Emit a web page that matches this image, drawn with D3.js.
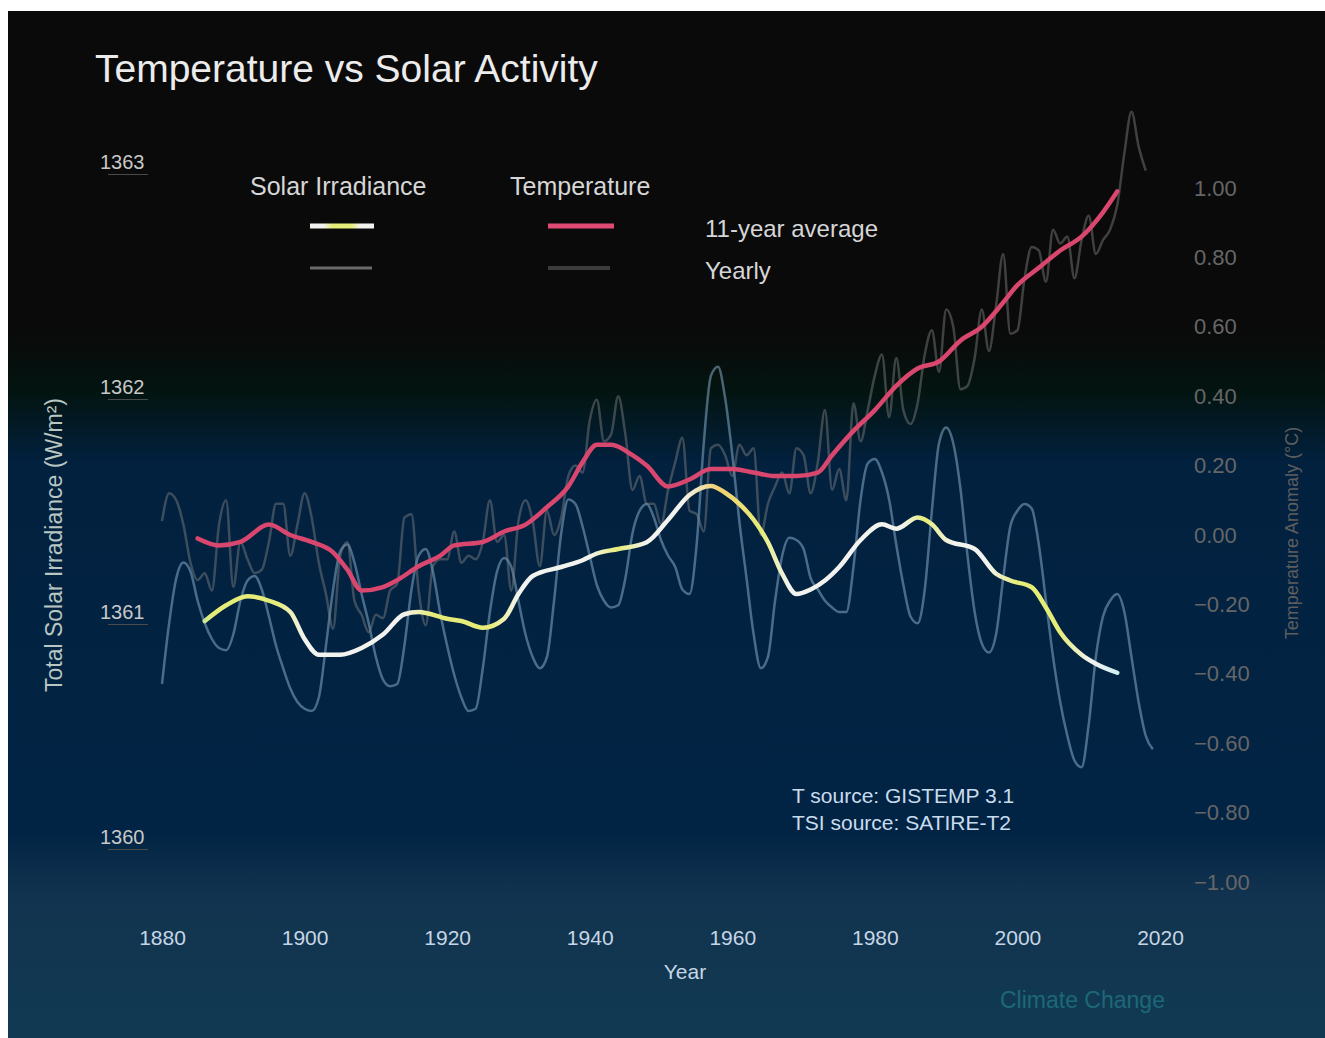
<!DOCTYPE html>
<html>
<head>
<meta charset="utf-8">
<script src="https://cdn.jsdelivr.net/npm/d3@7"></script>
<style>
  html, body { margin: 0; padding: 0; background: #ffffff; }
  svg { display: block; }
  text { font-family: "Liberation Sans", Arial, sans-serif; }
</style>
</head>
<body>
<svg id="chart" width="1325" height="1038"></svg>
<script>
// ---------- DATA ----------
const xTicks = [1880, 1900, 1920, 1940, 1960, 1980, 2000, 2020];
const tsiTicks = [1360, 1361, 1362, 1363];
const tempTicks = [-1.0, -0.8, -0.6, -0.4, -0.2, 0.0, 0.2, 0.4, 0.6, 0.8, 1.0];

// Total solar irradiance, yearly (W/m2), 1880-2019
const tsiYearStart = 1880;
const tsiYearly = [
  1360.68, 1360.95, 1361.15, 1361.22, 1361.18, 1361.05, 1360.95, 1360.88, 1360.84, 1360.83,
  1360.90, 1361.05, 1361.14, 1361.16, 1361.10, 1360.98, 1360.85, 1360.75, 1360.66, 1360.60,
  1360.57, 1360.56, 1360.62, 1360.85, 1361.10, 1361.27, 1361.30, 1361.22, 1361.08, 1360.95,
  1360.80, 1360.70, 1360.67, 1360.68, 1360.85, 1361.10, 1361.25, 1361.28, 1361.18, 1361.00,
  1360.85, 1360.72, 1360.62, 1360.56, 1360.57, 1360.75, 1361.00, 1361.18, 1361.24, 1361.20,
  1361.05, 1360.90, 1360.80, 1360.75, 1360.80, 1361.05, 1361.35, 1361.50, 1361.48, 1361.38,
  1361.25, 1361.12, 1361.05, 1361.02, 1361.03, 1361.15, 1361.35, 1361.45, 1361.48, 1361.42,
  1361.32, 1361.25, 1361.20, 1361.10, 1361.08, 1361.30, 1361.75, 1362.05, 1362.09, 1361.95,
  1361.70, 1361.40, 1361.15, 1360.90, 1360.75, 1360.80, 1361.05, 1361.25, 1361.33, 1361.32,
  1361.28, 1361.15, 1361.10, 1361.05, 1361.02, 1361.00, 1361.00, 1361.20, 1361.50, 1361.66,
  1361.68, 1361.62, 1361.50, 1361.30, 1361.12, 1360.98, 1360.95, 1361.10, 1361.45, 1361.75,
  1361.82, 1361.75, 1361.55, 1361.25, 1361.00, 1360.86, 1360.82, 1360.90, 1361.15, 1361.38,
  1361.45, 1361.48, 1361.46, 1361.30, 1361.05, 1360.80, 1360.60, 1360.45, 1360.34, 1360.31,
  1360.50, 1360.80, 1360.98, 1361.05, 1361.08, 1361.00, 1360.80, 1360.60, 1360.45, 1360.39
];

// Total solar irradiance, 11-year average
const tsiAvgYears = [1886, 1889, 1892, 1895, 1898, 1900, 1902, 1905, 1908, 1911, 1914, 1916, 1920, 1922, 1925,
  1928, 1930, 1932, 1936, 1939, 1941, 1944, 1948, 1951, 1954, 1957, 1959, 1961, 1963, 1965, 1967, 1969,
  1971, 1973, 1975, 1978, 1981, 1983, 1986, 1988, 1990, 1994, 1997, 1999, 2002, 2004, 2006, 2009, 2011, 2014];
const tsiAvg = [1360.96, 1361.03, 1361.07, 1361.05, 1361.00, 1360.88, 1360.81, 1360.81, 1360.84, 1360.90,
  1360.99, 1361.00, 1360.97, 1360.96, 1360.93, 1360.97, 1361.08, 1361.16, 1361.20, 1361.23, 1361.26,
  1361.28, 1361.31, 1361.41, 1361.52, 1361.56, 1361.53, 1361.48, 1361.41, 1361.31, 1361.17, 1361.08,
  1361.10, 1361.14, 1361.20, 1361.32, 1361.39, 1361.37, 1361.42, 1361.39, 1361.32, 1361.28, 1361.17,
  1361.14, 1361.11, 1361.02, 1360.91, 1360.81, 1360.77, 1360.73];

// Temperature anomaly, yearly (deg C), 1880-2018
const tempYearStart = 1880;
const tempYearly = [
  0.04, 0.12, 0.10, 0.03, -0.08, -0.13, -0.11, -0.16, 0.03, 0.10,
  -0.15, -0.02, -0.07, -0.11, -0.10, -0.02, 0.09, 0.09, -0.06, 0.03,
  0.12, 0.05, -0.08, -0.17, -0.27, -0.06, -0.02, -0.19, -0.23, -0.28,
  -0.23, -0.24, -0.16, -0.14, 0.05, 0.06, -0.16, -0.26, -0.09, -0.07,
  -0.07, 0.01, -0.08, -0.06, -0.07, -0.02, 0.10, -0.02, 0.00, -0.16,
  0.04, 0.10, 0.04, -0.09, 0.07, 0.00, 0.05, 0.17, 0.20, 0.18,
  0.33, 0.39, 0.27, 0.29, 0.40, 0.29, 0.13, 0.17, 0.09, 0.09,
  0.03, 0.13, 0.21, 0.28, 0.07, 0.06, 0.01, 0.25, 0.26, 0.23,
  0.17, 0.26, 0.23, 0.25, 0.00, 0.09, 0.14, 0.18, 0.12, 0.25,
  0.23, 0.12, 0.21, 0.36, 0.13, 0.19, 0.10, 0.38, 0.27, 0.36,
  0.46, 0.52, 0.34, 0.51, 0.36, 0.32, 0.38, 0.52, 0.59, 0.47,
  0.65, 0.60, 0.42, 0.43, 0.51, 0.65, 0.53, 0.66, 0.81, 0.58,
  0.59, 0.74, 0.83, 0.82, 0.73, 0.88, 0.84, 0.86, 0.74, 0.85,
  0.92, 0.81, 0.85, 0.88, 0.95, 1.10, 1.22, 1.12, 1.05
];

// Temperature anomaly, 11-year average
const tempAvgYears = [1885, 1888, 1891, 1895, 1898, 1901, 1904, 1906, 1908, 1911, 1913, 1916, 1919, 1921, 1925,
  1928, 1931, 1934, 1937, 1939, 1941, 1943, 1946, 1948, 1951, 1954, 1957, 1960, 1963, 1966, 1969, 1972,
  1974, 1977, 1980, 1983, 1986, 1989, 1992, 1995, 1998, 2000, 2003, 2006, 2009, 2012, 2014];
const tempAvg = [-0.01, -0.03, -0.02, 0.03, 0.00, -0.02, -0.05, -0.10, -0.16, -0.15, -0.13, -0.09, -0.06,
  -0.03, -0.02, 0.01, 0.03, 0.08, 0.14, 0.21, 0.26, 0.26, 0.23, 0.20, 0.14, 0.16, 0.19, 0.19, 0.18, 0.17,
  0.17, 0.18, 0.23, 0.30, 0.36, 0.43, 0.48, 0.50, 0.56, 0.60, 0.67, 0.72, 0.77, 0.82, 0.86, 0.93, 0.99];

// ---------- CHART ----------
const svg = d3.select("#chart");
const W = 1325, H = 1038;
const defs = svg.append("defs");

const bg = defs.append("linearGradient").attr("id", "bg")
  .attr("x1", 0).attr("y1", 0).attr("x2", 0).attr("y2", 1);
[[0, "#0a0a0a"], [0.31, "#0a0a0a"], [0.37, "#031410"], [0.44, "#02213f"], [0.80, "#022444"], [0.86, "#12334f"], [1, "#113a52"]]
  .forEach(([o, c]) => bg.append("stop").attr("offset", o).attr("stop-color", c));

svg.append("rect").attr("width", W).attr("height", H).attr("fill", "#ffffff");
svg.append("rect").attr("x", 8).attr("y", 11).attr("width", W - 8).attr("height", H - 11).attr("fill", "url(#bg)");

const x = d3.scaleLinear().domain([1880, 2020]).range([162, 1160]);
const yL = d3.scaleLinear().domain([1360, 1363]).range([837, 162]);
const yR = d3.scaleLinear().domain([-1, 1]).range([882, 188]);

// gradient for the solar 11-year average line (white / yellow)
const sg = defs.append("linearGradient").attr("id", "solarGrad")
  .attr("gradientUnits", "userSpaceOnUse")
  .attr("x1", x(1880)).attr("x2", x(2020)).attr("y1", 0).attr("y2", 0);
const Y = "#e6ec78", Wt = "#f2f2ee";
[[1884, "#9fe0c8"], [1887, Y], [1896, Y], [1900, Wt], [1914, Wt], [1918, Y], [1926, Y], [1930, Wt],
 [1940, Wt], [1944, Y], [1948, Wt], [1953, Wt], [1958, "#f2d070"], [1964, Y], [1968, Wt], [1984, Wt],
 [1987, Y], [1991, Wt], [1996, Wt], [2000, Y], [2006, Y], [2010, Wt], [2015, "#c8f0f0"]]
  .forEach(([yr, c]) => sg.append("stop").attr("offset", (yr - 1880) / 140).attr("stop-color", c));

const lg = defs.append("linearGradient").attr("id", "legSolar")
  .attr("gradientUnits", "userSpaceOnUse")
  .attr("x1", 310).attr("x2", 374).attr("y1", 0).attr("y2", 0);
[[0, Wt], [0.22, Wt], [0.35, Y], [0.65, Y], [0.78, Wt], [1, Wt]]
  .forEach(([o, c]) => lg.append("stop").attr("offset", o).attr("stop-color", c));

// axes
const gx = svg.append("g").attr("transform", "translate(0,927)")
  .call(d3.axisBottom(x).tickValues(xTicks).tickFormat(d3.format("d")).tickSize(0));
gx.select(".domain").remove();
gx.selectAll("text").attr("font-size", 21).attr("fill", "#c6d6e6").attr("dy", "0.7em");

const gl = svg.append("g").attr("transform", "translate(100,0)")
  .call(d3.axisLeft(yL).tickValues(tsiTicks).tickFormat(d3.format("d")).tickSize(0));
gl.select(".domain").remove();
gl.selectAll("text").attr("font-size", 20).attr("fill", "#c8c8c8")
  .attr("text-anchor", "start").attr("x", 0).attr("dy", "0.32em");
gl.selectAll(".tick").append("line").attr("x1", 8).attr("x2", 48).attr("y1", 12).attr("y2", 12)
  .attr("stroke", "#4a4a4a").attr("stroke-width", 1);

const gr = svg.append("g").attr("transform", "translate(1194,0)")
  .call(d3.axisRight(yR).tickValues(tempTicks).tickFormat(d3.format(".2f")).tickSize(0));
gr.select(".domain").remove();
gr.selectAll("text").attr("font-size", 22).attr("fill", "#666666")
  .attr("text-anchor", "start").attr("x", 0).attr("dy", "0.32em");

// axis titles
svg.append("text").attr("transform", "translate(62,545) rotate(-90)")
  .attr("text-anchor", "middle").attr("font-size", 23).attr("fill", "#b9c6c2")
  .text("Total Solar Irradiance (W/m²)");
svg.append("text").attr("transform", "translate(1298,533) rotate(-90)")
  .attr("text-anchor", "middle").attr("font-size", 18).attr("fill", "#5e5e5e")
  .text("Temperature Anomaly (°C)");
svg.append("text").attr("x", 685).attr("y", 979).attr("text-anchor", "middle")
  .attr("font-size", 21).attr("fill", "#c6d6e6").text("Year");

// title
svg.append("text").attr("x", 95).attr("y", 82).attr("font-size", 39).attr("fill", "#ececec")
  .text("Temperature vs Solar Activity");

// lines
const tsiYearlyPts = tsiYearly.map((v, i) => [tsiYearStart + i, v]);
const tempYearlyPts = tempYearly.map((v, i) => [tempYearStart + i, v]);
const tsiAvgPts = tsiAvgYears.map((yr, i) => [yr, tsiAvg[i]]);
const tempAvgPts = tempAvgYears.map((yr, i) => [yr, tempAvg[i]]);

const lineL = d3.line().x(d => x(d[0])).y(d => yL(d[1])).curve(d3.curveMonotoneX);
const lineR = d3.line().x(d => x(d[0])).y(d => yR(d[1])).curve(d3.curveMonotoneX);

svg.append("path").datum(tsiYearlyPts).attr("d", lineL).attr("fill", "none")
  .attr("stroke", "rgba(150,190,220,0.48)").attr("stroke-width", 2.5);
svg.append("path").datum(tempYearlyPts).attr("d", lineR).attr("fill", "none")
  .attr("stroke", "rgba(130,130,130,0.45)").attr("stroke-width", 2.5);
svg.append("path").datum(tempAvgPts).attr("d", lineR).attr("fill", "none")
  .attr("stroke", "#d9476e").attr("stroke-width", 4.5).attr("stroke-linecap", "round");
svg.append("path").datum(tsiAvgPts).attr("d", lineL).attr("fill", "none")
  .attr("stroke", "url(#solarGrad)").attr("stroke-width", 4.5).attr("stroke-linecap", "round");

// legend
const leg = svg.append("g");
leg.append("text").attr("x", 250).attr("y", 195).attr("font-size", 25).attr("fill", "#d6d6d6").text("Solar Irradiance");
leg.append("text").attr("x", 510).attr("y", 195).attr("font-size", 25).attr("fill", "#d6d6d6").text("Temperature");
leg.append("line").attr("x1", 310).attr("x2", 374).attr("y1", 226).attr("y2", 226)
  .attr("stroke", "url(#legSolar)").attr("stroke-width", 5);
leg.append("line").attr("x1", 548).attr("x2", 614).attr("y1", 226).attr("y2", 226)
  .attr("stroke", "#de4a74").attr("stroke-width", 5);
leg.append("line").attr("x1", 310).attr("x2", 372).attr("y1", 268).attr("y2", 268)
  .attr("stroke", "#6a6a6a").attr("stroke-width", 3);
leg.append("line").attr("x1", 548).attr("x2", 610).attr("y1", 268).attr("y2", 268)
  .attr("stroke", "#3c3c3c").attr("stroke-width", 4);
leg.append("text").attr("x", 705).attr("y", 237).attr("font-size", 24).attr("fill", "#d6d6d6").text("11-year average");
leg.append("text").attr("x", 705).attr("y", 279).attr("font-size", 24).attr("fill", "#d6d6d6").text("Yearly");

// sources
svg.append("text").attr("x", 792).attr("y", 803).attr("font-size", 21).attr("fill", "#c8dcee").text("T source: GISTEMP 3.1");
svg.append("text").attr("x", 792).attr("y", 830).attr("font-size", 21).attr("fill", "#c8dcee").text("TSI source: SATIRE-T2");

// credit
svg.append("text").attr("x", 1000).attr("y", 1008).attr("font-size", 23).attr("fill", "#1d6878").text("Climate Change");
</script>
</body>
</html>
